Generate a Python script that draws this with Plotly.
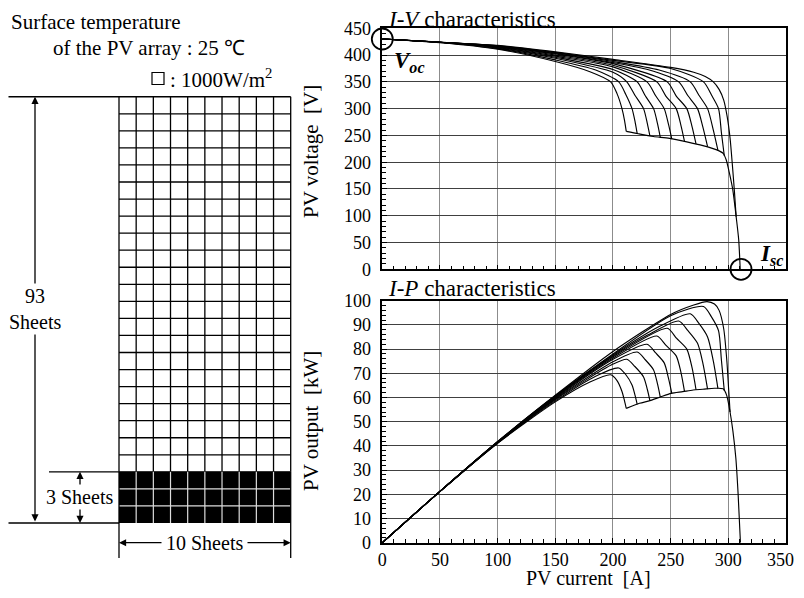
import plotly.graph_objects as go

# The page keeps the browser's default 8px body margin, so the figure is
# sized to fill the 804x598 window together with that margin.
PAGE_W, PAGE_H = 804, 598
OFF = 8
W, H = PAGE_W - 2 * OFF, PAGE_H - 2 * OFF
FONT = "Liberation Serif"

# ---------------- data ----------------
# I-V (voltage, V) and I-P (power, kW) curves; current in A.
# Upper branch + drop of each shading case (curve 0 = earliest knee).
CUR_0 = [0, 50, 100, 150, 180, 198, 203.5, 207.8, 210, 211.5]
VOLT_0 = [430, 423, 411, 388, 369, 350, 328, 300, 278, 257.5]
POW_0 = [0, 21.1, 41.1, 58.2, 66.4, 69.4, 67.0, 62.5, 58.6, 55.5]

CUR_1 = [0, 50, 100, 150, 185, 205, 211, 216.5, 219.2, 221]
VOLT_1 = [430, 423.5, 412, 391, 372, 350, 327, 300, 275, 253.5]
POW_1 = [0, 21.2, 41.2, 58.6, 68.8, 72.2, 69.5, 65.2, 60.8, 57.2]

CUR_2 = [0, 50, 100, 150, 200, 212, 219, 226.5, 229.8, 232]
VOLT_2 = [430, 424, 413, 394, 368, 350, 325, 300, 272, 249]
POW_2 = [0, 21.2, 41.3, 59.1, 73.8, 75.8, 72.8, 68.5, 63.3, 58.7]

CUR_3 = [0, 50, 100, 150, 200, 221, 228, 235.2, 238.6, 241]
VOLT_3 = [430, 424, 414, 396, 373, 350, 324, 300, 272, 246.5]
POW_3 = [0, 21.2, 41.4, 59.4, 74.8, 78.8, 75.6, 71.4, 65.6, 60.2]

CUR_4 = [0, 50, 100, 150, 200, 229.5, 237, 244.4, 248.2, 251]
VOLT_4 = [430, 424, 415, 398, 378, 350, 324, 300, 270, 243]
POW_4 = [0, 21.2, 41.5, 59.7, 75.8, 82.0, 78.4, 74.3, 67.8, 61.7]

CUR_5 = [0, 50, 100, 150, 200, 238, 246, 254.8, 259, 262]
VOLT_5 = [430, 424, 415.5, 400, 381, 350, 323, 300, 268, 239]
POW_5 = [0, 21.2, 41.5, 60.0, 76.3, 85.4, 81.5, 77.2, 70.2, 62.5]

CUR_6 = [0, 50, 100, 150, 200, 247, 255, 264, 268.6, 272]
VOLT_6 = [430, 424, 416, 402, 384, 350, 323, 300, 266, 234]
POW_6 = [0, 21.2, 41.6, 60.3, 76.8, 88.6, 84.5, 80.0, 72.2, 63.2]

CUR_7 = [0, 50, 100, 150, 200, 230, 257, 265, 273.3, 278, 282]
VOLT_7 = [430, 424, 416.5, 403, 386, 373, 350, 324, 300, 265, 229]
POW_7 = [0, 21.2, 41.6, 60.4, 77.2, 85.8, 91.6, 87.6, 82.4, 74.0, 63.5]

CUR_8 = [0, 50, 100, 150, 200, 240, 267, 274.5, 282, 287, 291]
VOLT_8 = [430, 424, 417, 404, 388, 372, 350, 325, 300, 260, 222]
POW_8 = [0, 21.2, 41.7, 60.6, 77.6, 89.3, 94.6, 90.6, 85.0, 75.0, 63.7]

CUR_9 = [0, 50, 100, 150, 200, 250, 278.5, 285.5, 291.5, 294, 296.5]
VOLT_9 = [430, 424, 417.5, 405, 390, 375, 350, 325, 300, 255, 212]
POW_9 = [0, 21.2, 41.7, 60.7, 78.0, 93.8, 97.6, 93.2, 87.6, 75.5, 62.8]

# Rightmost curve (no lower plateau)
CUR_10_IV = [0, 50, 100, 150, 200, 250, 270, 280, 287, 292, 296, 299, 301.5, 303.5, 305.3, 306.8]
VOLT_10 = [430, 424, 418, 406, 392, 377, 368, 360, 350, 336, 316, 285, 245, 195, 145, 98]
CUR_10_IP = [0, 50, 100, 150, 200, 250, 270, 281.5, 288, 292, 296, 298.8, 300.2, 301.5]
POW_10 = [0, 21.2, 41.8, 60.9, 79.0, 94.3, 98.2, 99.6, 98.6, 96.0, 88.4, 74.7, 64.0, 54.0]

# Common lower plateau and final drop to short circuit
PLATEAU_IV_CUR = [211.5, 222, 235, 249, 264, 278, 290, 295.5, 298.2, 301, 303.9, 306.8, 309, 310.3]
PLATEAU_IV_VOLT = [257.5, 253, 248, 244.5, 238, 231, 223, 216.5, 204, 179, 148, 98, 55, 0]
PLATEAU_IP_CUR = [211.5, 223, 232, 240.5, 250.5, 260.5, 269.5, 278, 288, 295.5, 298.5, 301.5, 304, 306.5, 308.5, 310.5]
PLATEAU_IP_POW = [55.5, 57.6, 58.7, 60.1, 61.7, 62.4, 63.1, 63.4, 63.8, 63.6, 61, 54, 46, 35, 20, 0]

VOC = 430      # open-circuit voltage [V]
ISC = 311      # short-circuit current [A]

X_TICKS = [0, 50, 100, 150, 200, 250, 300, 350]
IV_TICKS = [0, 50, 100, 150, 200, 250, 300, 350, 400, 450]
IP_TICKS = [0, 10, 20, 30, 40, 50, 60, 70, 80, 90, 100]

# PV array diagram
GRID_COLS = 10
GRID_ROWS_CLEAR = 22
GRID_ROWS_SHADED = 3
LABEL_TOTAL = "93<br>Sheets"
LABEL_SHADED = "3 Sheets"
LABEL_COLS = "10 Sheets"

# ---------------- helpers (window pixels -> paper) ----------------
def px(xp):
    return (xp - OFF) / W


def py(yp):
    return 1 - (yp - OFF) / H


X0, X1 = 382.3, 786.0
IV_TOP, IV_BOT = 28.3, 269.3
IP_TOP, IP_BOT = 300.7, 542.7

# diagram axis: column / row units
COLW, ROWH = 17.17, 17.05
GX0, GY0 = 119.0, 523.0
D_RIGHT = 300.0
D_XDOM = [0, px(D_RIGHT)]
D_XRANGE = [(OFF - GX0) / COLW, (D_RIGHT - GX0) / COLW]
D_YRANGE = [(GY0 - (PAGE_H - OFF)) / ROWH, (GY0 - OFF) / ROWH]


def dx(xp):
    return (xp - GX0) / COLW


def dy(yp):
    return (GY0 - yp) / ROWH


fig = go.Figure()

LINE = dict(color="black", width=1.15, shape="spline", smoothing=0.7)

iv_curves = [(CUR_0, VOLT_0), (CUR_1, VOLT_1), (CUR_2, VOLT_2), (CUR_3, VOLT_3),
             (CUR_4, VOLT_4), (CUR_5, VOLT_5), (CUR_6, VOLT_6), (CUR_7, VOLT_7),
             (CUR_8, VOLT_8), (CUR_9, VOLT_9), (CUR_10_IV, VOLT_10),
             (PLATEAU_IV_CUR, PLATEAU_IV_VOLT)]
ip_curves = [(CUR_0, POW_0), (CUR_1, POW_1), (CUR_2, POW_2), (CUR_3, POW_3),
             (CUR_4, POW_4), (CUR_5, POW_5), (CUR_6, POW_6), (CUR_7, POW_7),
             (CUR_8, POW_8), (CUR_9, POW_9), (CUR_10_IP, POW_10),
             (PLATEAU_IP_CUR, PLATEAU_IP_POW)]

for xs, ys in iv_curves:
    fig.add_trace(go.Scatter(x=xs, y=ys, mode="lines", line=LINE,
                             xaxis="x", yaxis="y", showlegend=False, hoverinfo="skip"))
for xs, ys in ip_curves:
    fig.add_trace(go.Scatter(x=xs, y=ys, mode="lines", line=LINE,
                             xaxis="x2", yaxis="y2", showlegend=False, hoverinfo="skip"))

# Voc / Isc circles
fig.add_trace(go.Scatter(x=[0, ISC], y=[VOC, 0], mode="markers",
                         marker=dict(symbol="circle-open", size=21, color="black",
                                     line=dict(width=1.8, color="black")),
                         cliponaxis=False, xaxis="x", yaxis="y",
                         showlegend=False, hoverinfo="skip"))

# ---------------- diagram grid ----------------
n_rows = GRID_ROWS_CLEAR + GRID_ROWS_SHADED
fig.add_shape(type="rect", xref="x3", yref="y3", x0=0, x1=GRID_COLS, y0=0,
              y1=GRID_ROWS_SHADED, fillcolor="black", line=dict(width=0), layer="below")

gx, gy = [], []
for c in range(GRID_COLS + 1):
    gx += [c, c, None]
    gy += [GRID_ROWS_SHADED, n_rows, None]
for r in range(GRID_ROWS_SHADED, n_rows + 1):
    gx += [0, GRID_COLS, None]
    gy += [r, r, None]
fig.add_trace(go.Scatter(x=gx, y=gy, mode="lines", line=dict(color="black", width=1.3),
                         xaxis="x3", yaxis="y3", showlegend=False, hoverinfo="skip"))

wx, wy = [], []
for c in range(1, GRID_COLS):
    wx += [c, c, None]
    wy += [0, GRID_ROWS_SHADED, None]
for r in range(1, GRID_ROWS_SHADED):
    wx += [0, GRID_COLS, None]
    wy += [r, r, None]
fig.add_trace(go.Scatter(x=wx, y=wy, mode="lines", line=dict(color="#dddddd", width=1.2),
                         xaxis="x3", yaxis="y3", showlegend=False, hoverinfo="skip"))

ex = [dx(8.5), 0, None, dx(8.5), 0, None, dx(49), 0, None, 0, 0, None, GRID_COLS, GRID_COLS, None,
      0, 0, None, GRID_COLS, GRID_COLS]
ey = [n_rows, n_rows, None, 0, 0, None, GRID_ROWS_SHADED, GRID_ROWS_SHADED, None,
      0, dy(558), None, 0, dy(558), None, 0, GRID_ROWS_SHADED, None, 0, GRID_ROWS_SHADED]
fig.add_trace(go.Scatter(x=ex, y=ey, mode="lines", line=dict(color="black", width=1.3),
                         xaxis="x3", yaxis="y3", showlegend=False, hoverinfo="skip"))

ann = []


def arrow(x_tail, y_tail, x_head, y_head, both=False):
    ann.append(dict(x=x_head, y=y_head, ax=x_tail, ay=y_tail, xref="x3", yref="y3",
                    axref="x3", ayref="y3", text="", showarrow=True, arrowhead=2,
                    arrowsize=1.1, arrowwidth=1.3, arrowcolor="black", standoff=0,
                    startstandoff=0, startarrowhead=2, startarrowsize=1.1,
                    arrowside="end+start" if both else "end"))


AX_BIG = dx(35)
arrow(AX_BIG, 0, AX_BIG, n_rows, both=True)
AX_SMALL = dx(80)
arrow(AX_SMALL, dy(488), AX_SMALL, GRID_ROWS_SHADED)
arrow(AX_SMALL, dy(506), AX_SMALL, 0)
AY_COLS = dy(542.7)
arrow(dx(163), AY_COLS, 0, AY_COLS)
arrow(dx(246), AY_COLS, GRID_COLS, AY_COLS)


def label(x, y, text, font, xref="paper", yref="paper", xanchor="center", **kw):
    d = dict(x=x, y=y, xref=xref, yref=yref, text=text, showarrow=False, font=font,
             xanchor=xanchor, yanchor="middle")
    d.update(kw)
    ann.append(d)


TXT = dict(family=FONT, size=20, color="black")
label(AX_BIG, dy(309), LABEL_TOTAL, TXT, "x3", "y3", bgcolor="white", align="center")
label(dx(79.5), dy(497), LABEL_SHADED, TXT, "x3", "y3", bgcolor="white")
label(GRID_COLS / 2, AY_COLS, LABEL_COLS, TXT, "x3", "y3")

HT = dict(family=FONT, size=21, color="black")
label(px(9), py(22), "Surface temperature", HT, xanchor="left")
label(px(51), py(48), "of the PV array : 25 \u2103", HT, xanchor="left")
label(px(168), py(78), ": 1000W/m<sup>2</sup>", HT, xanchor="left")
fig.add_shape(type="rect", xref="paper", yref="paper", x0=px(152), x1=px(164),
              y0=py(84.5), y1=py(72.5), line=dict(color="black", width=1.2))

TT = dict(family=FONT, size=23, color="black")
label(px(386), py(19), "<i>I-V</i> characteristics", TT, xanchor="left")
label(px(386), py(288), "<i>I-P</i> characteristics", TT, xanchor="left")
AT = dict(family=FONT, size=21, color="black")
label(px(311), py(152), "PV voltage\u00a0\u00a0[V]", AT, textangle=-90)
label(px(311), py(421), "PV output\u00a0\u00a0[kW]", AT, textangle=-90)
label(px(588), py(578), "PV current\u00a0\u00a0[A]", dict(AT, size=20))

BI = dict(family=FONT, size=23, color="black")
label(0, VOC, "<b><i>V<sub>oc</sub></i></b>", BI, "x", "y", xshift=27, yshift=-23)
label(ISC, 0, "<b><i>I<sub>sc</sub></i></b>", BI, "x", "y", xshift=30, yshift=14)

# ---------------- axes ----------------
TF = dict(family=FONT, size=18, color="black")
# last x tick label is drawn as an annotation nudged inside the page edge
x_ticktext = [str(v) for v in X_TICKS[:-1]] + [""]
label(X_TICKS[-1], py(559.5), str(X_TICKS[-1]), TF, "x2", "paper", xanchor="right", xshift=10)

common = dict(showline=True, linecolor="black", linewidth=1.5, mirror=True,
              ticks="inside", ticklen=5, tickwidth=1, tickcolor="black",
              showgrid=True, gridwidth=1, zeroline=False, fixedrange=True,
              automargin=False, tickfont=TF)
xcommon = dict(common, range=[0, 350], tickvals=X_TICKS, gridcolor="#8c8c8c",
               minor=dict(ticks="inside", dtick=10, ticklen=4, tickwidth=1,
                          tickcolor="black", showgrid=False))

fig.update_layout(
    width=W, height=H, autosize=False,
    margin=dict(l=0, r=0, t=0, b=0, pad=0, autoexpand=False),
    paper_bgcolor="white", plot_bgcolor="white",
    font=dict(family=FONT, color="black"),
    showlegend=False,
    xaxis=dict(xcommon, domain=[px(X0), px(X1)], anchor="y", showticklabels=False),
    yaxis=dict(common, domain=[py(IV_BOT), py(IV_TOP)], anchor="x", range=[0, 450],
               tickvals=IV_TICKS, gridcolor="#404040", ticklabelstandoff=6,
               minor=dict(ticks="inside", dtick=10, ticklen=4, tickwidth=1,
                          tickcolor="black", showgrid=False)),
    xaxis2=dict(xcommon, domain=[px(X0), px(X1)], anchor="y2", ticktext=x_ticktext),
    yaxis2=dict(common, domain=[py(IP_BOT), py(IP_TOP)], anchor="x2", range=[0, 100],
                tickvals=IP_TICKS, gridcolor="#404040", ticklabelstandoff=6,
                minor=dict(ticks="inside", dtick=2, ticklen=4, tickwidth=1,
                           tickcolor="black", showgrid=False)),
    xaxis3=dict(domain=D_XDOM, range=D_XRANGE, visible=False, fixedrange=True,
                anchor="y3", automargin=False),
    yaxis3=dict(domain=[0, 1], range=D_YRANGE, visible=False, fixedrange=True,
                anchor="x3", automargin=False),
    annotations=ann,
)

fig.write_html("out.html", config={"displayModeBar": False})
